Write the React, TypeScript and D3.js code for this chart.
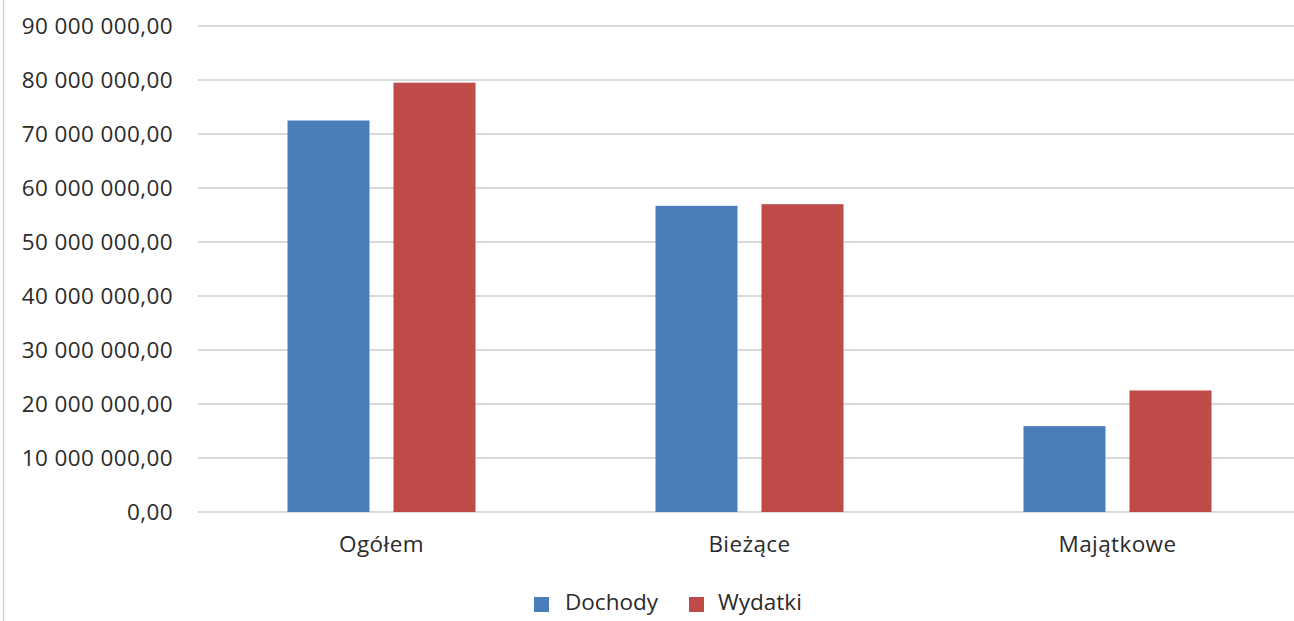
import React from "react";
import * as d3 from "d3";

const categories = ["Ogółem", "Bieżące", "Majątkowe"];
const seriesNames = ["Dochody", "Wydatki"];
const dochody = [72500000, 56700000, 15900000];
const wydatki = [79500000, 57000000, 22500000];
const yTicks = [0, 10000000, 20000000, 30000000, 40000000, 50000000, 60000000, 70000000, 80000000, 90000000];
const colors = ["#4A7EBB", "#BE4B48"];

const W = 1294;
const H = 621;
const FONT = "'Open Sans', 'Noto Sans', sans-serif";
const TEXT = "#2b2b2b";
const FS = 22.5;
const LS = 0.4;

const locale = d3.formatLocale({ decimal: ",", thousands: " ", grouping: [3], currency: ["", ""] });
const fmt = locale.format(",.2f");

export default function App() {
  const series = [dochody, wydatki];
  const x0 = d3.scaleBand<string>().domain(categories).range([197.5, 1301.5]).paddingInner(0).paddingOuter(0);
  const y = d3.scaleLinear().domain([0, 90000000]).range([512, 26]);
  const groupW = 188;
  const x1 = d3
    .scaleBand<string>()
    .domain(seriesNames)
    .range([0, groupW])
    .paddingInner(24 / 106)
    .paddingOuter(0);

  const legendItems = [
    { name: seriesNames[0], color: colors[0], sx: 534, tx: 565 },
    { name: seriesNames[1], color: colors[1], sx: 689, tx: 718 },
  ];

  return (
    <div style={{ position: "fixed", left: 0, top: 0 }}>
      <svg width={W} height={H} style={{ display: "block", background: "#fff" }}>
        <rect x={0} y={0} width={W} height={H} fill="#ffffff" />
        <line x1={3.5} x2={3.5} y1={0} y2={H} stroke="#d4d4d4" strokeWidth={1.5} />
        {yTicks.map((t) => (
          <g key={t}>
            <line x1={198} x2={W} y1={y(t)} y2={y(t)} stroke="#d9d9d9" strokeWidth={2} />
            <text
              x={173}
              y={y(t)}
              dy="0.35em"
              textAnchor="end"
              fontFamily={FONT}
              fontSize={FS}
              letterSpacing={LS}
              fill={TEXT}
            >
              {fmt(t)}
            </text>
          </g>
        ))}
        {categories.map((c, i) => {
          const cx = (x0(c) as number) + x0.bandwidth() / 2;
          const gx = cx - groupW / 2;
          return (
            <g key={c}>
              {seriesNames.map((s, j) => (
                <rect
                  key={s}
                  x={gx + (x1(s) as number)}
                  y={y(series[j][i])}
                  width={x1.bandwidth()}
                  height={y(0) - y(series[j][i])}
                  fill={colors[j]}
                />
              ))}
              <text
                x={cx}
                y={552}
                textAnchor="middle"
                fontFamily={FONT}
                fontSize={FS}
                letterSpacing={LS}
                fill={TEXT}
              >
                {c}
              </text>
            </g>
          );
        })}
        {legendItems.map((l) => (
          <g key={l.name}>
            <rect x={l.sx} y={597} width={15} height={15} fill={l.color} />
            <text x={l.tx} y={610} fontFamily={FONT} fontSize={FS} letterSpacing={0} fill={TEXT}>
              {l.name}
            </text>
          </g>
        ))}
      </svg>
    </div>
  );
}
